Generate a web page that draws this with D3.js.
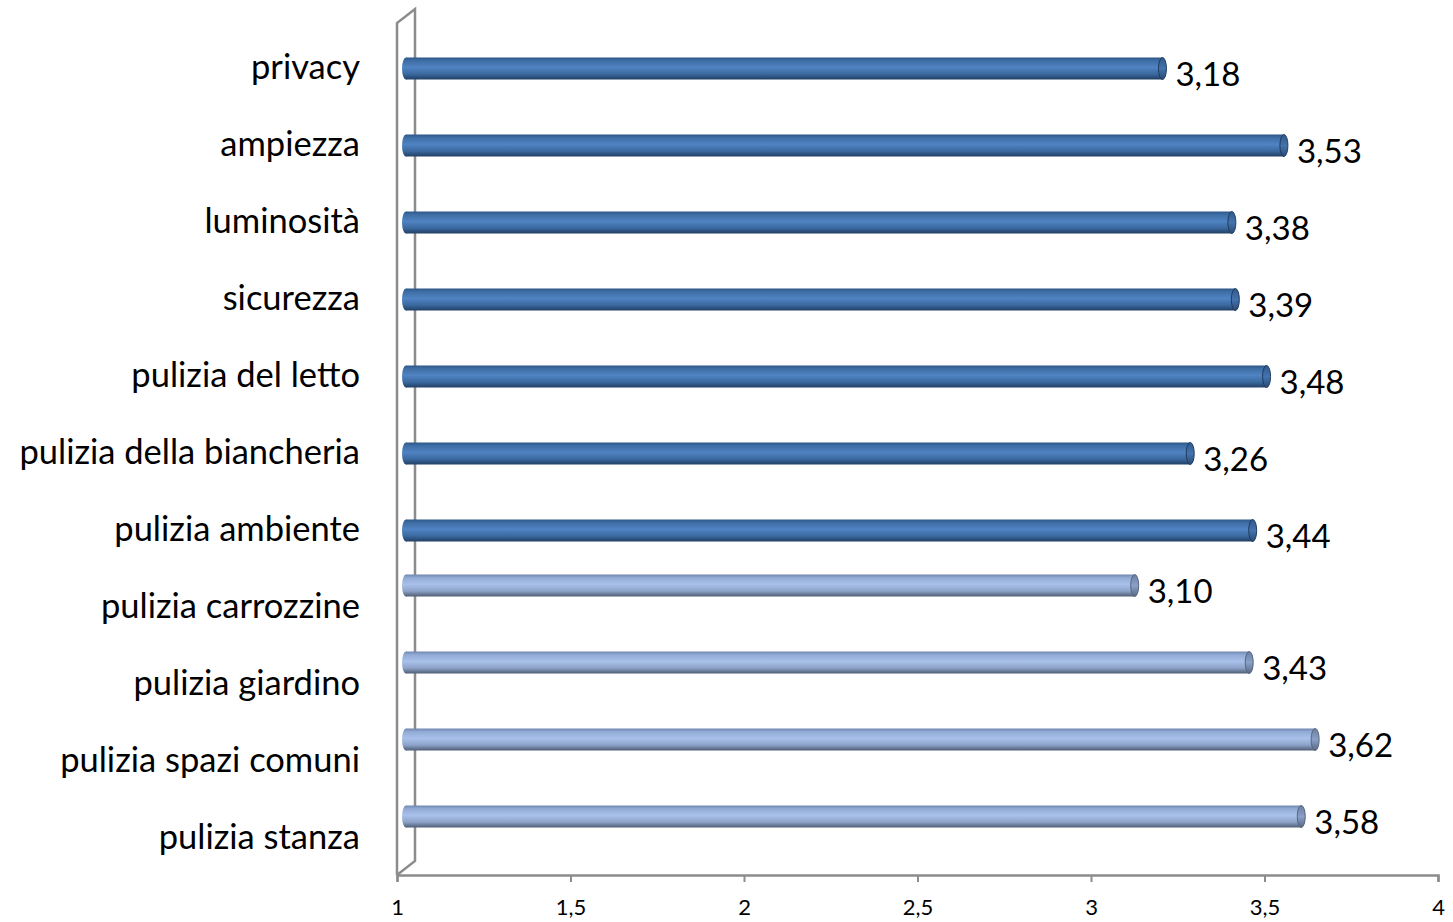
<!DOCTYPE html>
<html><head><meta charset="utf-8">
<script src="https://cdn.jsdelivr.net/npm/d3@7"></script>
<style>body{margin:0;background:#fff}svg{display:block}</style>
</head><body>
<script>
const categories = ["privacy","ampiezza","luminosità","sicurezza","pulizia del letto","pulizia della biancheria","pulizia ambiente","pulizia carrozzine","pulizia giardino","pulizia spazi comuni","pulizia stanza"];
const seriesLight = [null,null,null,null,null,null,null,3.10,3.43,3.62,3.58];
const seriesDark  = [3.18,3.53,3.38,3.39,3.48,3.26,3.44,null,null,null,null];
const tickValues = [1,1.5,2,2.5,3,3.5,4];
const tickLabels = ["1","1,5","2","2,5","3","3,5","4"];

const W=1453,H=922;
const svg=d3.select("body").append("svg").attr("width",W).attr("height",H);
const x=d3.scaleLinear().domain([1,4]).range([397,1438]);
const y=d3.scaleBand().domain(categories).range([28,875]);
const sub=d3.scaleBand().domain(["light","dark"]).range([-22,22]).paddingInner(0);
const depthX=18, depthY=-14, barDX=9, barDY=-9, barH=22, capRx=4;

const defs=svg.append("defs");
function grad(id,stops){
  const g=defs.append("linearGradient").attr("id",id).attr("x1",0).attr("y1",0).attr("x2",0).attr("y2",1);
  stops.forEach(s=>g.append("stop").attr("offset",s[0]).attr("stop-color",s[1]));
}
grad("gDark",[[0,"#2c5687"],[0.15,"#3f6ea6"],[0.45,"#4f83c2"],[0.75,"#3b69a0"],[1,"#213f63"]]);
grad("gLight",[[0,"#6f87ad"],[0.15,"#92abd6"],[0.45,"#a9c1ea"],[0.75,"#8da3c9"],[1,"#4f5d75"]]);
grad("cDark",[[0,"#30598b"],[0.5,"#4473ad"],[1,"#2a4b74"]]);
grad("cLight",[[0,"#6a7fa3"],[0.5,"#8aa0c6"],[1,"#5a6884"]]);

// walls
const g0=svg.append("g").attr("fill","none").attr("stroke","#8c8c8c").attr("stroke-width",2.5);
const x0=x(1), yTop=y.range()[0]-5, yBot=y.range()[1];
g0.append("path").attr("d",`M${x0},${yBot}V${yTop}L${x0+depthX},${yTop+depthY}V${yBot+depthY}L${x0},${yBot}`);
// axis
const ax=svg.append("g").attr("transform",`translate(0,${yBot})`)
 .call(d3.axisBottom(x).tickValues(tickValues).tickFormat((d,i)=>tickLabels[i]).tickSize(7).tickPadding(17));
ax.select(".domain").attr("stroke","#8c8c8c").attr("stroke-width",2.5);
ax.selectAll(".tick line").attr("stroke","#8c8c8c").attr("stroke-width",2);
ax.selectAll(".tick text").attr("font-family","Lato, 'Open Sans', sans-serif").attr("font-size",22).attr("fill","#000");

// category labels
svg.append("g").selectAll("text").data(categories).join("text")
 .attr("x",360).attr("y",d=>y(d)+y.bandwidth()/2).attr("dy","0.35em")
 .attr("text-anchor","end").attr("font-family","Lato, 'Open Sans', sans-serif").attr("font-size",34.5).attr("fill","#000")
 .text(d=>d);

function drawSeries(vals,key,fill,cap){
  const data=categories.map((c,i)=>({c,v:vals[i]})).filter(d=>d.v!=null);
  const g=svg.append("g");
  data.forEach(d=>{
    const cy=y(d.c)+y.bandwidth()/2+sub(key)+sub.bandwidth()/2+barDY;
    const xa=x(1)+barDX, xb=x(d.v)+barDX;
    g.append("ellipse").attr("cx",xa).attr("cy",cy).attr("rx",capRx).attr("ry",barH/2).attr("fill",`url(#${fill})`);
    g.append("rect").attr("x",xa).attr("y",cy-barH/2).attr("width",xb-xa).attr("height",barH).attr("fill",`url(#${fill})`);
    g.append("ellipse").attr("cx",xb).attr("cy",cy).attr("rx",capRx).attr("ry",barH/2).attr("fill",`url(#${cap})`)
      .attr("stroke",key==="dark"?"#1f3b5e":"#56647e").attr("stroke-width",1);
    g.append("text").attr("x",xb+capRx+9).attr("y",cy+17)
      .attr("font-family","Lato, 'Open Sans', sans-serif").attr("font-size",33).attr("fill","#000")
      .text(d3.format(".2f")(d.v).replace(".",","));
  });
}
drawSeries(seriesLight,"light","gLight","cLight");
drawSeries(seriesDark,"dark","gDark","cDark");
</script>
</body></html>
